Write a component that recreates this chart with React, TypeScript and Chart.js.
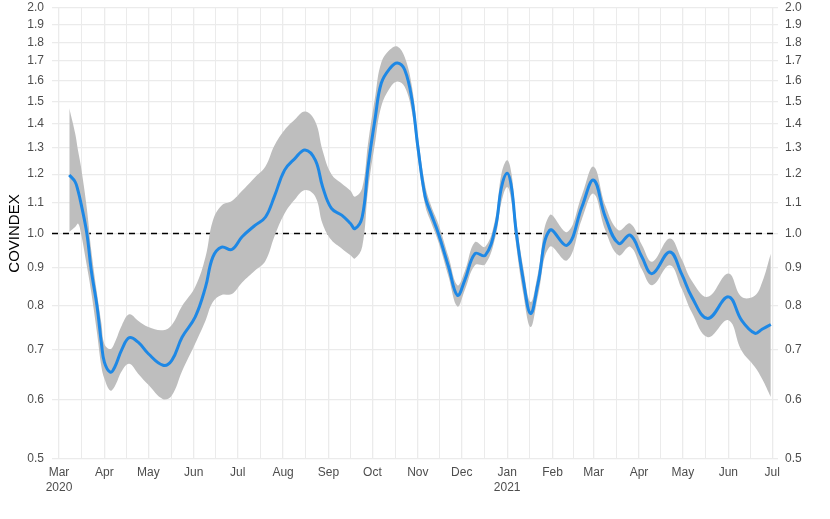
import React, { useEffect, useRef } from 'react';
import { Chart, registerables } from 'chart.js';

Chart.register(...registerables);

// ---- data ----
const dates = [
  '2020-03-08', '2020-03-12', '2020-03-14', '2020-03-16', '2020-03-20', '2020-03-23', '2020-03-27', '2020-03-30',
  '2020-04-01', '2020-04-05', '2020-04-08', '2020-04-13', '2020-04-18', '2020-04-24', '2020-05-01', '2020-05-11',
  '2020-05-17', '2020-05-24', '2020-06-02', '2020-06-09', '2020-06-14', '2020-06-20', '2020-06-27', '2020-07-04',
  '2020-07-13', '2020-07-20', '2020-07-26', '2020-08-02', '2020-08-09', '2020-08-16', '2020-08-23', '2020-08-28',
  '2020-09-03', '2020-09-10', '2020-09-16', '2020-09-19', '2020-09-24', '2020-09-28', '2020-10-03', '2020-10-07',
  '2020-10-13', '2020-10-18', '2020-10-23', '2020-10-28', '2020-11-01', '2020-11-06', '2020-11-10', '2020-11-15',
  '2020-11-22', '2020-11-28', '2020-12-03', '2020-12-10', '2020-12-17', '2020-12-24', '2020-12-28', '2021-01-01',
  '2021-01-04', '2021-01-07', '2021-01-12', '2021-01-17', '2021-01-22', '2021-01-30', '2021-02-11', '2021-02-21',
  '2021-03-01', '2021-03-09', '2021-03-18', '2021-03-26', '2021-04-03', '2021-04-10', '2021-04-22', '2021-04-30',
  '2021-05-07', '2021-05-18', '2021-06-01', '2021-06-10', '2021-06-19', '2021-06-24', '2021-06-30',
];

const covindex = [
  1.197, 1.172, 1.14, 1.097, 1.0, 0.893, 0.798, 0.712,
  0.673, 0.653, 0.663, 0.701, 0.726, 0.716, 0.691, 0.667,
  0.677, 0.727, 0.774, 0.848, 0.93, 0.959, 0.952, 0.99,
  1.026, 1.052, 1.12, 1.215, 1.259, 1.293, 1.253, 1.154,
  1.08, 1.058, 1.031, 1.015, 1.052, 1.228, 1.432, 1.587,
  1.662, 1.689, 1.654, 1.508, 1.306, 1.12, 1.063, 1.0,
  0.902, 0.827, 0.866, 0.94, 0.935, 1.02, 1.15, 1.203,
  1.15, 1.01, 0.866, 0.782, 0.857, 1.01, 0.965, 1.085,
  1.178, 1.052, 0.97, 0.995, 0.93, 0.884, 0.945, 0.884,
  0.823, 0.77, 0.823, 0.766, 0.736, 0.745, 0.756,
];

const ciUpper = [
  1.47, 1.361, 1.29, 1.228, 1.08, 0.95, 0.83, 0.757,
  0.712, 0.701, 0.715, 0.755, 0.78, 0.765, 0.75, 0.743,
  0.755, 0.8, 0.849, 0.93, 1.04, 1.09, 1.105, 1.14,
  1.19, 1.23, 1.31, 1.375, 1.42, 1.455, 1.41, 1.29,
  1.2, 1.166, 1.14, 1.12, 1.15, 1.32, 1.53, 1.69,
  1.76, 1.777, 1.72, 1.57, 1.35, 1.16, 1.09, 1.03,
  0.93, 0.853, 0.89, 0.974, 0.96, 1.05, 1.2, 1.253,
  1.2, 1.05, 0.9, 0.81, 0.885, 1.058, 1.005, 1.125,
  1.228, 1.09, 1.01, 1.031, 0.965, 0.917, 0.985, 0.925,
  0.865, 0.823, 0.884, 0.823, 0.826, 0.86, 0.94,
];

const ciLower = [
  1.005, 1.02, 1.031, 1.0, 0.905, 0.835, 0.735, 0.663,
  0.64, 0.617, 0.625, 0.656, 0.67, 0.65, 0.628, 0.601,
  0.608, 0.655, 0.713, 0.765, 0.81, 0.828, 0.83, 0.86,
  0.893, 0.92, 0.99, 1.063, 1.11, 1.143, 1.12, 1.03,
  0.98, 0.955, 0.935, 0.926, 0.96, 1.143, 1.33, 1.477,
  1.565, 1.596, 1.57, 1.45, 1.26, 1.09, 1.035, 0.975,
  0.875, 0.799, 0.84, 0.907, 0.91, 0.99, 1.1, 1.154,
  1.1, 0.97, 0.83, 0.75, 0.825, 0.96, 0.921, 1.045,
  1.13, 1.01, 0.935, 0.96, 0.895, 0.853, 0.907, 0.845,
  0.785, 0.727, 0.766, 0.698, 0.664, 0.64, 0.605,
];

const monthTicks = [
  '2020-03-01', '2020-04-01', '2020-05-01', '2020-06-01', '2020-07-01', '2020-08-01', '2020-09-01', '2020-10-01',
  '2020-11-01', '2020-12-01', '2021-01-01', '2021-02-01', '2021-03-01', '2021-04-01', '2021-05-01', '2021-06-01',
  '2021-07-01',
];
const monthLabels: (string | string[])[] = [
  ['Mar', '2020'], 'Apr', 'May', 'Jun', 'Jul', 'Aug', 'Sep', 'Oct',
  'Nov', 'Dec', ['Jan', '2021'], 'Feb', 'Mar', 'Apr', 'May', 'Jun',
  'Jul',
];

const yTicks = [0.5, 0.6, 0.7, 0.8, 0.9, 1.0, 1.1, 1.2, 1.3, 1.4, 1.5, 1.6, 1.7, 1.8, 1.9, 2.0];
const referenceLevel = 1.0;
const yTitle = 'COVINDEX';

// ---- helpers ----
const ORIGIN = Date.UTC(2020, 2, 1);
const toDay = (s: string) => {
  const [y, m, d] = s.split('-').map(Number);
  return (Date.UTC(y, m - 1, d) - ORIGIN) / 86400000;
};
const X_MIN = toDay('2020-03-01') - 4.8;
const X_MAX = toDay('2021-07-01') + 3.9;

const FONT = '"Liberation Sans", Arial, Helvetica, sans-serif';
const GRID = '#ebebeb';
const TEXT = '#4d4d4d';
const TENSION = 0.4;

export default function App() {
  const ref = useRef<HTMLCanvasElement | null>(null);

  useEffect(() => {
    const canvas = ref.current;
    if (!canvas) return;

    const xs = dates.map(toDay);
    const majors = monthTicks.map(toDay);
    const minors: number[] = [];
    for (let i = 0; i < majors.length - 1; i++) minors.push((majors[i] + majors[i + 1]) / 2);
    const allX = [...majors, ...minors].sort((a, b) => a - b);
    const labelFor = new Map<number, string | string[]>();
    majors.forEach((v, i) => labelFor.set(v, monthLabels[i]));

    const linePts = xs.map((x, i) => ({ x, y: covindex[i] }));
    const upPts = xs.map((x, i) => ({ x, y: ciUpper[i] }));
    const loPts = xs.map((x, i) => ({ x, y: ciLower[i] }));

    const fitY = (scale: any) => {
      scale.width = 52;
      scale.paddingTop = 0;
      scale.paddingBottom = 0;
    };

    const yAxisCommon = {
      type: 'logarithmic' as const,
      min: 0.5,
      max: 2.0,
      afterBuildTicks: (scale: any) => {
        scale.ticks = yTicks.map((v) => ({ value: v }));
      },
      afterFit: fitY,
      ticks: {
        color: TEXT,
        font: { family: FONT, size: 12 },
        padding: 8,
        autoSkip: false,
        callback: (v: any) => Number(v).toFixed(1),
      },
      border: { display: false },
    };

    const chart = new Chart(canvas, {
      type: 'line',
      data: {
        datasets: [
          {
            label: 'CI upper',
            data: upPts,
            borderWidth: 0,
            borderColor: 'rgba(0,0,0,0)',
            backgroundColor: '#bebebe',
            pointRadius: 0,
            fill: '+1',
            tension: TENSION,
            order: 1,
          },
          {
            label: 'CI lower',
            data: loPts,
            borderWidth: 0,
            borderColor: 'rgba(0,0,0,0)',
            backgroundColor: '#bebebe',
            pointRadius: 0,
            fill: false,
            tension: TENSION,
            order: 1,
          },
          {
            label: 'COVINDEX',
            data: linePts,
            borderColor: '#1e88e5',
            borderWidth: 3,
            pointRadius: 0,
            fill: false,
            tension: TENSION,
            order: 0,
          },
          {
            label: 'ref',
            data: [
              { x: X_MIN, y: referenceLevel },
              { x: X_MAX, y: referenceLevel },
            ],
            borderColor: '#000000',
            borderWidth: 1.5,
            borderDash: [6, 5],
            pointRadius: 0,
            fill: false,
            order: 2,
          },
        ],
      },
      options: {
        responsive: false,
        animation: false,
        events: [],
        layout: { padding: { top: 8, left: 0, right: 0, bottom: 0 } },
        plugins: {
          legend: { display: false },
          tooltip: { enabled: false },
          title: { display: false },
        },
        scales: {
          x: {
            type: 'linear',
            min: X_MIN,
            max: X_MAX,
            afterBuildTicks: (scale: any) => {
              scale.ticks = allX.map((v) => ({ value: v }));
            },
            afterFit: (scale: any) => {
              scale.height = 60;
            },
            ticks: {
              autoSkip: false,
              maxRotation: 0,
              minRotation: 0,
              padding: 6,
              color: TEXT,
              font: { family: FONT, size: 12, lineHeight: 1.25 },
              callback: (v: any) => {
                const l = labelFor.get(Number(v));
                return l === undefined ? '' : l;
              },
            },
            grid: {
              color: GRID,
              lineWidth: (ctx: any) => (labelFor.has(ctx.tick?.value) ? 1.3 : 1),
              drawTicks: false,
            },
            border: { display: false },
          },
          y: {
            ...yAxisCommon,
            position: 'left',
            grid: { color: GRID, lineWidth: 1.3, drawTicks: false },
            title: {
              display: true,
              text: yTitle,
              color: '#000000',
              font: { family: FONT, size: 15 },
              padding: { top: 6, bottom: 0 },
            },
          },
          y2: {
            ...yAxisCommon,
            position: 'right',
            ticks: { ...yAxisCommon.ticks, padding: 7 },
            grid: { display: false, drawTicks: false },
          },
        },
      },
    } as any);

    return () => chart.destroy();
  }, []);

  return (
    <div style={{ position: 'absolute', left: 0, top: 0, width: 830, height: 519, background: '#ffffff' }}>
      <canvas ref={ref} width={830} height={519} style={{ display: 'block', width: 830, height: 519 }} />
    </div>
  );
}
